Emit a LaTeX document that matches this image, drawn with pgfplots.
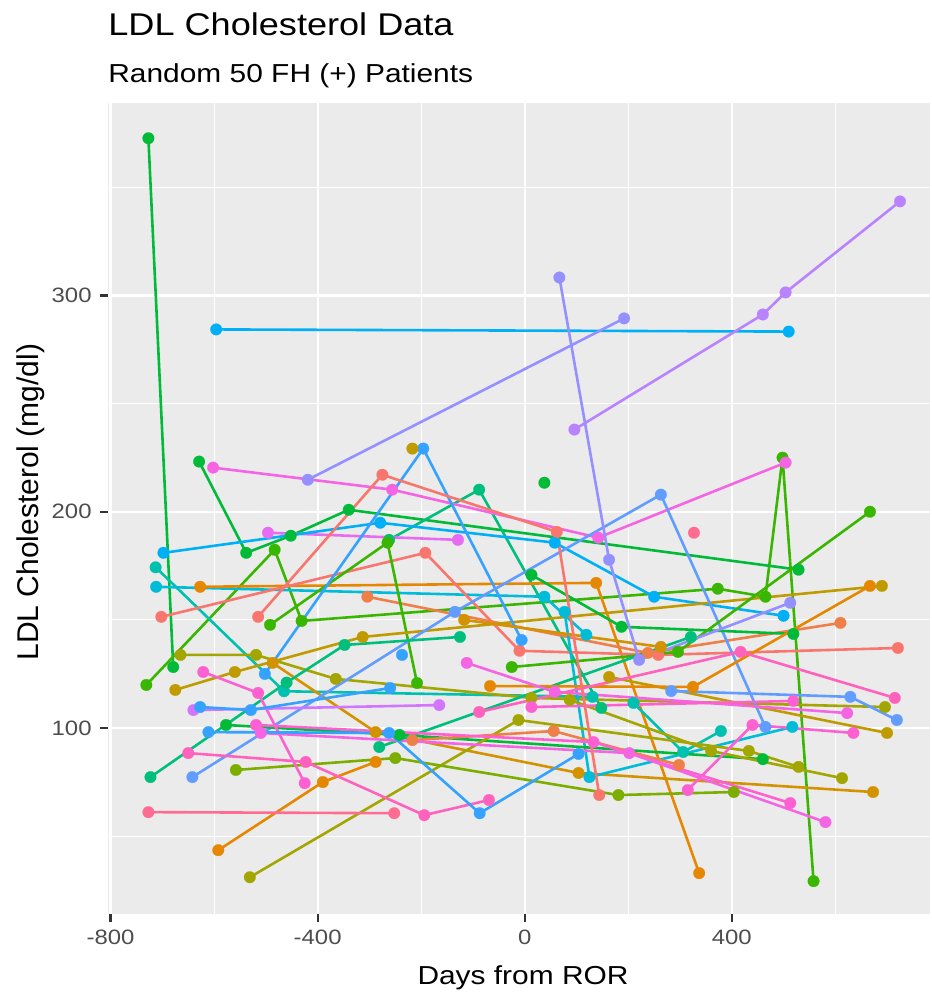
\documentclass[border=0pt]{standalone}
\usepackage{pgfplots}
\pgfplotsset{compat=1.18}
\usepackage{fontspec}
\setmainfont{Liberation Sans}[FakeStretch=1.15]
\newfontfamily\ylabfont{Liberation Sans}
\definecolor{panelgrey}{HTML}{EBEBEB}
\definecolor{tickc}{HTML}{333333}
\definecolor{labc}{HTML}{4D4D4D}
\definecolor{cRed}{HTML}{F8766D}
\definecolor{cOrR}{HTML}{EF7F49}
\definecolor{cOrg}{HTML}{E58700}
\definecolor{cOch}{HTML}{D39200}
\definecolor{cOli}{HTML}{C09B00}
\definecolor{cYG}{HTML}{A3A500}
\definecolor{cLG}{HTML}{7CAE00}
\definecolor{cG}{HTML}{39B600}
\definecolor{cGr}{HTML}{00BA38}
\definecolor{cGT}{HTML}{00BF7D}
\definecolor{cTeal}{HTML}{00C0AF}
\definecolor{cCy}{HTML}{00BCD8}
\definecolor{cSky}{HTML}{00B0F6}
\definecolor{cBlue}{HTML}{35A2FF}
\definecolor{cB2}{HTML}{619CFF}
\definecolor{cVio}{HTML}{9590FF}
\definecolor{cPur}{HTML}{B983FF}
\definecolor{cPur2}{HTML}{D376FF}
\definecolor{cMag}{HTML}{E76BF3}
\definecolor{cMag2}{HTML}{F564E3}
\definecolor{cPink}{HTML}{FD61D1}
\definecolor{cPink2}{HTML}{FF62BC}
\definecolor{cPinkR}{HTML}{FF6C91}
\pgfplotsset{pat/.style={color=#1, mark=*, mark size=2.9pt, line width=1.3pt, mark options={solid, line width=0.1pt, fill=#1}}}
\begin{document}
\begin{tikzpicture}
\begin{axis}[
  at={(54pt,40pt)}, anchor=south west,
  scale only axis, width=411pt, height=405.5pt,
  xmin=-805, xmax=783, ymin=14, ymax=389,
  axis background/.style={fill=panelgrey},
  axis line style={draw=none},
  xtick={-800,-400,0,400}, xticklabels={-800,-400,0,400},
  minor xtick={-600,-200,200,600},
  ytick={100,200,300}, yticklabels={100,200,300},
  minor ytick={50,150,250,350},
  grid=both,
  major grid style={white, line width=1.1pt},
  minor grid style={white, line width=0.55pt},
  tick align=outside, tick pos=left,
  major tick length=3.9pt, minor tick length=0pt,
  tick style={color=tickc, line width=1.1pt},
  ticklabel style={font=\fontsize{10.4}{12}\selectfont, text=labc},
  xticklabel style={anchor=north, inner sep=0pt, yshift=-4.1pt},
  yticklabel style={anchor=east, inner sep=0pt, xshift=-4.1pt},
  set layers, mark layer=axis foreground,
  clip=true,
]
\addplot[pat=cGr] coordinates {(-727,372.7)(-679,128.2)};
\addplot[pat=cG] coordinates {(-731,119.9)(-483,182.4)(-431,149.5)(373,164.4)(465,160.7)(498,225)(558,29.2)};
\addplot[pat=cGr] coordinates {(-629,223.2)(-538,181)(-452,188.9)(-340,200.9)(529,173.2)};
\addplot[pat=cGT] coordinates {(-262,187)(-88,210.2)(148,109.3)};
\addplot[pat=cMag] coordinates {(-496,190.3)(-129,187)};
\addplot[pat=cSky] coordinates {(-698,181)(-279,194.9)(58,185.7)(250,160.7)(500,151.9)};
\addplot[pat=cMag2] coordinates {(-602,220.4)(-256,210.2)(142,188)(504,222.7)};
\addplot[pat=cTeal] coordinates {(-713,174.3)(-465,117)(131,114.4)};
\addplot[pat=cCy] coordinates {(-712,165.3)(38,160.7)(119,143.1)};
\addplot[pat=cOrg] coordinates {(-627,165.3)(138,167.1)(337,32.9)};
\addplot[pat=cRed] coordinates {(-702,151.4)(-192,181)(-10,135.7)(258,133.8)(721,137)};
\addplot[pat=cOrR] coordinates {(-304,160.7)(238,134.7)(610,148.6)};
\addplot[pat=cG] coordinates {(-492,147.7)(-265,185.7)(-208,120.8)};
\addplot[pat=cYG] coordinates {(-665,133.8)(-519,133.8)(-365,122.7)(13,113.9)(696,109.7)};
\addplot[pat=cOch] coordinates {(-487,130.1)(-288,98.1)(104,79.2)(673,70.4)};
\addplot[pat=cOli] coordinates {(-675,117.6)(-560,125.9)(-313,142.1)(690,165.7)};
\addplot[pat=cBlue] coordinates {(-502,125)(-196,229.2)(-6,140.7)};
\addplot[pat=cB2] coordinates {(-642,77.3)(-135,153.7)(263,207.9)(465,100.5)};
\addplot[pat=cCy] coordinates {(77,153.7)(125,77.3)(517,100.5)};
\addplot[pat=cGT] coordinates {(-723,77.3)(-460,121)(-348,138.4)(-125,142.1)};
\addplot[pat=cTeal] coordinates {(210,111.6)(306,88.9)(379,98.6)};
\addplot[pat=cGr] coordinates {(13,170.8)(187,146.8)(519,143.5)};
\addplot[pat=cG] coordinates {(-25,128.2)(296,135.2)(667,200)};
\addplot[pat=cGr] coordinates {(-577,101.4)(-242,96.8)(460,85.6)};
\addplot[pat=cGT] coordinates {(-281,91.2)(321,142.1)};
\addplot[pat=cYG] coordinates {(-531,31)(-12,103.7)(433,89.4)(529,82)};
\addplot[pat=cLG] coordinates {(-558,80.6)(-250,86.1)(181,69)(404,70.4)};
\addplot[pat=cGr] coordinates {(38,213.4)};
\addplot[pat=cOli] coordinates {(-217,229.2)};
\addplot[pat=cYG] coordinates {(87,113)(360,89.4)(613,76.8)};
\addplot[pat=cOli] coordinates {(163,123.6)(700,97.7)};
\addplot[pat=cOch] coordinates {(-117,150)(263,137.5)};
\addplot[pat=cOrg] coordinates {(-592,43.5)(-390,75)(-288,84.3)};
\addplot[pat=cOrR] coordinates {(-217,94.4)(56,98.6)(298,82.9)};
\addplot[pat=cOrg] coordinates {(-67,119.4)(325,119)(667,165.7)};
\addplot[pat=cPinkR] coordinates {(-727,61.1)(-252,60.6)};
\addplot[pat=cPink2] coordinates {(-650,88.4)(-423,84.3)(-194,59.7)(-69,66.7)};
\addplot[pat=cPink] coordinates {(-621,125.9)(-515,116.2)(-425,74.5)};
\addplot[pat=cPink] coordinates {(-519,101.4)(133,93.5)(513,65.3)};
\addplot[pat=cMag2] coordinates {(-510,97.7)(202,88.4)(581,56.5)};
\addplot[pat=cMag2] coordinates {(-112,130.1)(58,116.7)(623,106.9)};
\addplot[pat=cPur2] coordinates {(-640,108.3)(-165,110.6)};
\addplot[pat=cPink2] coordinates {(-88,107.4)(417,135.2)(715,113.9)};
\addplot[pat=cPink] coordinates {(315,71.3)(440,101.4)(635,97.7)};
\addplot[pat=cPink] coordinates {(13,109.7)(519,112.5)};
\addplot[pat=cBlue] coordinates {(-627,109.7)(-529,108.3)(-260,118.5)};
\addplot[pat=cBlue] coordinates {(-611,98.1)(-262,97.7)(-87,60.6)(104,88)};
\addplot[pat=cB2] coordinates {(283,117.1)(629,114.4)(719,103.7)};
\addplot[pat=cRed] coordinates {(-515,151.4)(-275,217.1)(62,190.7)(144,69)};
\addplot[pat=cSky] coordinates {(-596,284.3)(510,283.3)};
\addplot[pat=cVio] coordinates {(-419,214.8)(192,289.4)};
\addplot[pat=cPur] coordinates {(96,238)(460,291.2)(504,301.4)(725,343.5)};
\addplot[pat=cVio] coordinates {(67,308.3)(163,177.8)(221,131.5)(513,157.9)};
\addplot[pat=cPinkR] coordinates {(327,190.3)};
\addplot[pat=cBlue] coordinates {(-237,133.8)};
\end{axis}
\node[anchor=base west, inner sep=0pt, font=\fontsize{15.7}{18}\selectfont] at (54pt,479.4pt) {LDL Cholesterol Data};
\node[anchor=base west, inner sep=0pt, font=\fontsize{13}{15}\selectfont] at (54pt,455.6pt) {Random 50 FH (+) Patients};
\node[anchor=base, inner sep=0pt, font=\fontsize{13}{15}\selectfont] at (261.5pt,5pt) {Days from ROR};
\node[anchor=base, inner sep=0pt, rotate=90, font=\ylabfont\fontsize{15}{17}\selectfont] at (19pt,246pt) {LDL Cholesterol (mg/dl)};
\path (0,0) rectangle (465pt,497pt);
\end{tikzpicture}
\end{document}
